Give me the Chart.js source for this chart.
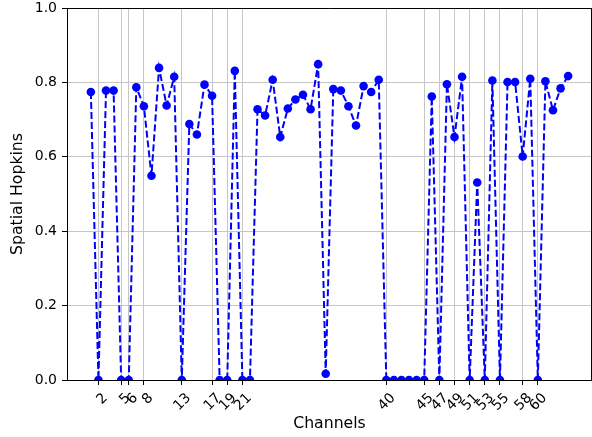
<!DOCTYPE html>
<html>
<head>
<meta charset="utf-8">
<script src="https://cdn.jsdelivr.net/npm/chart.js@4.4.0/dist/chart.umd.min.js"></script>
<style>
  html, body { margin: 0; padding: 0; background: #fff; }
  #wrap { width: 592px; height: 437px; }
</style>
</head>
<body>
<div id="wrap"><canvas id="chart-area" width="592" height="437"></canvas></div>
<script>
var channels = [1, 2, 3, 4, 5, 6, 7, 8, 9, 10, 11, 12, 13, 14, 15, 16,
  17, 18, 19, 20, 21, 22, 23, 24, 25, 26, 27, 28, 29, 30, 31, 32,
  33, 34, 35, 36, 37, 38, 39, 40, 41, 42, 43, 44, 45, 46, 47, 48,
  49, 50, 51, 52, 53, 54, 55, 56, 57, 58, 59, 60, 61, 62, 63, 64];

var hopkins = [0.774, 0, 0.778, 0.778, 0, 0, 0.787, 0.736, 0.549, 0.839, 0.738, 0.815, 0, 0.688, 0.660, 0.794,
  0.764, 0, 0, 0.831, 0, 0, 0.728, 0.711, 0.807, 0.653, 0.730, 0.754, 0.767, 0.728, 0.849, 0.017,
  0.782, 0.778, 0.736, 0.684, 0.790, 0.774, 0.807, 0, 0, 0, 0, 0, 0, 0.762, 0, 0.795,
  0.653, 0.815, 0, 0.531, 0, 0.805, 0, 0.801, 0.801, 0.601, 0.810, 0, 0.803, 0.725, 0.784, 0.817];

var tickChannels = [2, 5, 6, 8, 13, 17, 19, 21, 40, 45, 47, 49, 51, 53, 55, 58, 60];
var yTicks = [0, 0.2, 0.4, 0.6, 0.8, 1.0];

var points = channels.map(function(c, i) { return { x: c, y: hopkins[i] }; });

// top and right spines
var frame = {
  id: 'frame',
  afterDraw: function(chart) {
    var a = chart.chartArea, ctx = chart.ctx;
    ctx.save();
    ctx.strokeStyle = '#000';
    ctx.lineWidth = 1;
    ctx.beginPath();
    ctx.moveTo(a.left, Math.round(a.top) + 0.5);
    ctx.lineTo(a.right, Math.round(a.top) + 0.5);
    ctx.moveTo(Math.round(a.right) - 0.5, a.top);
    ctx.lineTo(Math.round(a.right) - 0.5, a.bottom);
    ctx.stroke();
    ctx.restore();
  }
};

var tickFont = { family: 'DejaVu Sans', size: 14 };
var titleFont = { family: 'DejaVu Sans', size: 15.7 };

var config = {
  type: 'line',
  data: {
    datasets: [{
      data: points,
      borderColor: 'blue',
      backgroundColor: 'blue',
      borderWidth: 2,
      borderDash: [7, 3],
      pointRadius: 4.3,
      pointHoverRadius: 4.3,
      pointBorderWidth: 0,
      pointBackgroundColor: 'blue',
      tension: 0,
      clip: 0,
      fill: false
    }]
  },
  options: {
    responsive: false,
    animation: false,
    events: [],
    layout: { autoPadding: false, padding: { top: 8, right: 0, left: 0, bottom: 0 } },
    plugins: { legend: { display: false }, tooltip: { enabled: false } },
    scales: {
      x: {
        type: 'linear',
        min: -2.15,
        max: 67.15,
        afterBuildTicks: function(scale) {
          scale.ticks = tickChannels.map(function(v) { return { value: v }; });
        },
        afterFit: function(scale) {
          scale.height = 57;
          scale.paddingLeft = 0;
          scale.paddingRight = 0;
        },
        ticks: {
          autoSkip: false,
          minRotation: 45,
          maxRotation: 45,
          labelOffset: 7,
          padding: 5,
          color: '#000',
          font: tickFont
        },
        grid: { color: '#c6c6c6', lineWidth: 1, tickColor: '#000', tickLength: 5, tickWidth: 1 },
        border: { color: '#000', width: 1 },
        title: { display: true, text: 'Channels', color: '#000', font: titleFont, padding: { top: 0, bottom: 4.1 } }
      },
      y: {
        min: 0,
        max: 1,
        afterBuildTicks: function(scale) {
          scale.ticks = yTicks.map(function(v) { return { value: v }; });
        },
        afterFit: function(scale) {
          scale.width = 67;
          scale.paddingTop = 0;
          scale.paddingBottom = 0;
        },
        ticks: {
          padding: 5,
          color: '#000',
          font: tickFont,
          callback: function(v) { return v.toFixed(1); }
        },
        grid: { color: '#c6c6c6', lineWidth: 1, tickColor: '#000', tickLength: 5, tickWidth: 1 },
        border: { color: '#000', width: 1 },
        title: { display: true, text: 'Spatial Hopkins', color: '#000', font: titleFont, padding: { top: 8.1, bottom: 0 } }
      }
    }
  },
  plugins: [frame]
};

window.onload = function() {
  var ctx = document.getElementById('chart-area').getContext('2d');
  window.myLine = new Chart(ctx, config);
};
</script>
</body>
</html>
